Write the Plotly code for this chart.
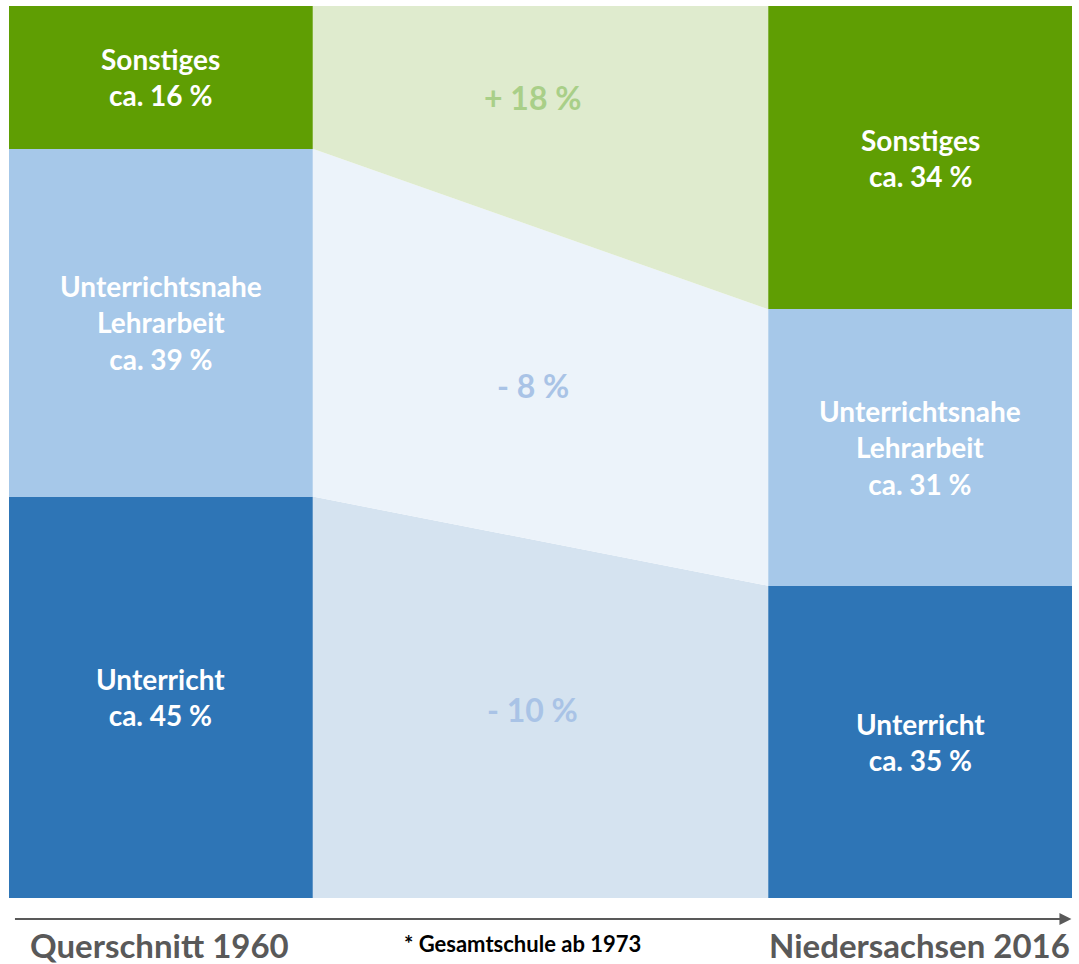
import plotly.graph_objects as go

# ---- data ----
categories = ["Unterricht", "Unterrichtsnahe<br>Lehrarbeit", "Sonstiges"]
periods = ["Querschnitt 1960", "Niedersachsen 2016"]
values_1960 = [45, 39, 16]
values_2016 = [35, 31, 34]
footnote = "* Gesamtschule ab 1973"

bar_colors = ["#2E75B6", "#A6C8E9", "#5F9E03"]
conn_colors = ["#D5E3F0", "#ECF3FA", "#DFEBCE"]
conn_text_colors = ["#A9C3E6", "#A9C3E6", "#A9CF88"]
conn_label_shift = [1.1, 0.0, 2.2]  # small vertical nudge of the change labels

W = 0.4
xs = [0, 1]
FONT = "Lato"

fig = go.Figure()

# stacked bars
for i, cat in enumerate(categories):
    fig.add_trace(go.Bar(
        x=xs, y=[values_1960[i], values_2016[i]], width=W,
        marker=dict(color=bar_colors[i], line=dict(width=0)),
        hoverinfo="skip", showlegend=False,
    ))

# connectors
cum_l = [0]
cum_r = [0]
for a, b in zip(values_1960, values_2016):
    cum_l.append(cum_l[-1] + a)
    cum_r.append(cum_r[-1] + b)

xl, xr = W / 2, 1 - W / 2
for i in range(len(categories)):
    fig.add_trace(go.Scatter(
        x=[xl, xr, xr, xl, xl],
        y=[cum_l[i], cum_r[i], cum_r[i + 1], cum_l[i + 1], cum_l[i]],
        fill="toself", fillcolor=conn_colors[i], mode="none",
        hoverinfo="skip", showlegend=False,
    ))
    d = values_2016[i] - values_1960[i]
    sign = "+" if d > 0 else "-"
    ymid = (cum_l[i] + cum_r[i] + cum_l[i + 1] + cum_r[i + 1]) / 4
    fig.add_annotation(
        x=0.49, y=ymid + conn_label_shift[i], xref="x", yref="y",
        text=f"<b>{sign} {abs(d)} %</b>", showarrow=False,
        font=dict(family=FONT, size=32, color=conn_text_colors[i]),
    )

# bar labels
for xi, vals, cum in [(0, values_1960, cum_l), (1, values_2016, cum_r)]:
    for i, cat in enumerate(categories):
        fig.add_annotation(
            x=xi, y=(cum[i] + cum[i + 1]) / 2, xref="x", yref="y",
            text=f"<b>{cat}<br>ca. {vals[i]} %</b>", showarrow=False,
            font=dict(family=FONT, size=28, color="white"),
        )

# timeline arrow
fig.add_annotation(
    x=0.9995, y=-0.0235, xref="paper", yref="paper",
    ax=-1058, ay=0, axref="pixel", ayref="pixel",
    text="", showarrow=True, arrowhead=2, arrowsize=1.2, arrowwidth=2,
    arrowcolor="#595959",
)

# bottom labels
fig.add_annotation(x=0.142, y=-0.053, xref="paper", yref="paper",
                   text=f"<b>{periods[0]}</b>", showarrow=False,
                   xanchor="center", yanchor="middle",
                   font=dict(family=FONT, size=33, color="#595959"))
fig.add_annotation(x=1.0, y=-0.053, xref="paper", yref="paper",
                   text=f"<b>{periods[1]}</b>", showarrow=False,
                   xanchor="right", yanchor="middle",
                   font=dict(family=FONT, size=33, color="#595959"))
fig.add_annotation(x=0.483, y=-0.051, xref="paper", yref="paper",
                   text=f"<b>{footnote}</b>", showarrow=False,
                   xanchor="center", yanchor="middle",
                   font=dict(family=FONT, size=22, color="black"))

fig.update_layout(
    width=1079, height=964,
    margin=dict(l=9, r=7, t=6, b=66),
    barmode="stack", bargap=0,
    paper_bgcolor="white", plot_bgcolor="white",
    xaxis=dict(range=[-W / 2, 1 + W / 2], visible=False, fixedrange=True),
    yaxis=dict(range=[0, 100], visible=False, fixedrange=True),
    showlegend=False,
)

fig.write_html("out.html", config={"displayModeBar": False},
               post_script="document.body.style.margin='0';document.body.style.padding='0';")
